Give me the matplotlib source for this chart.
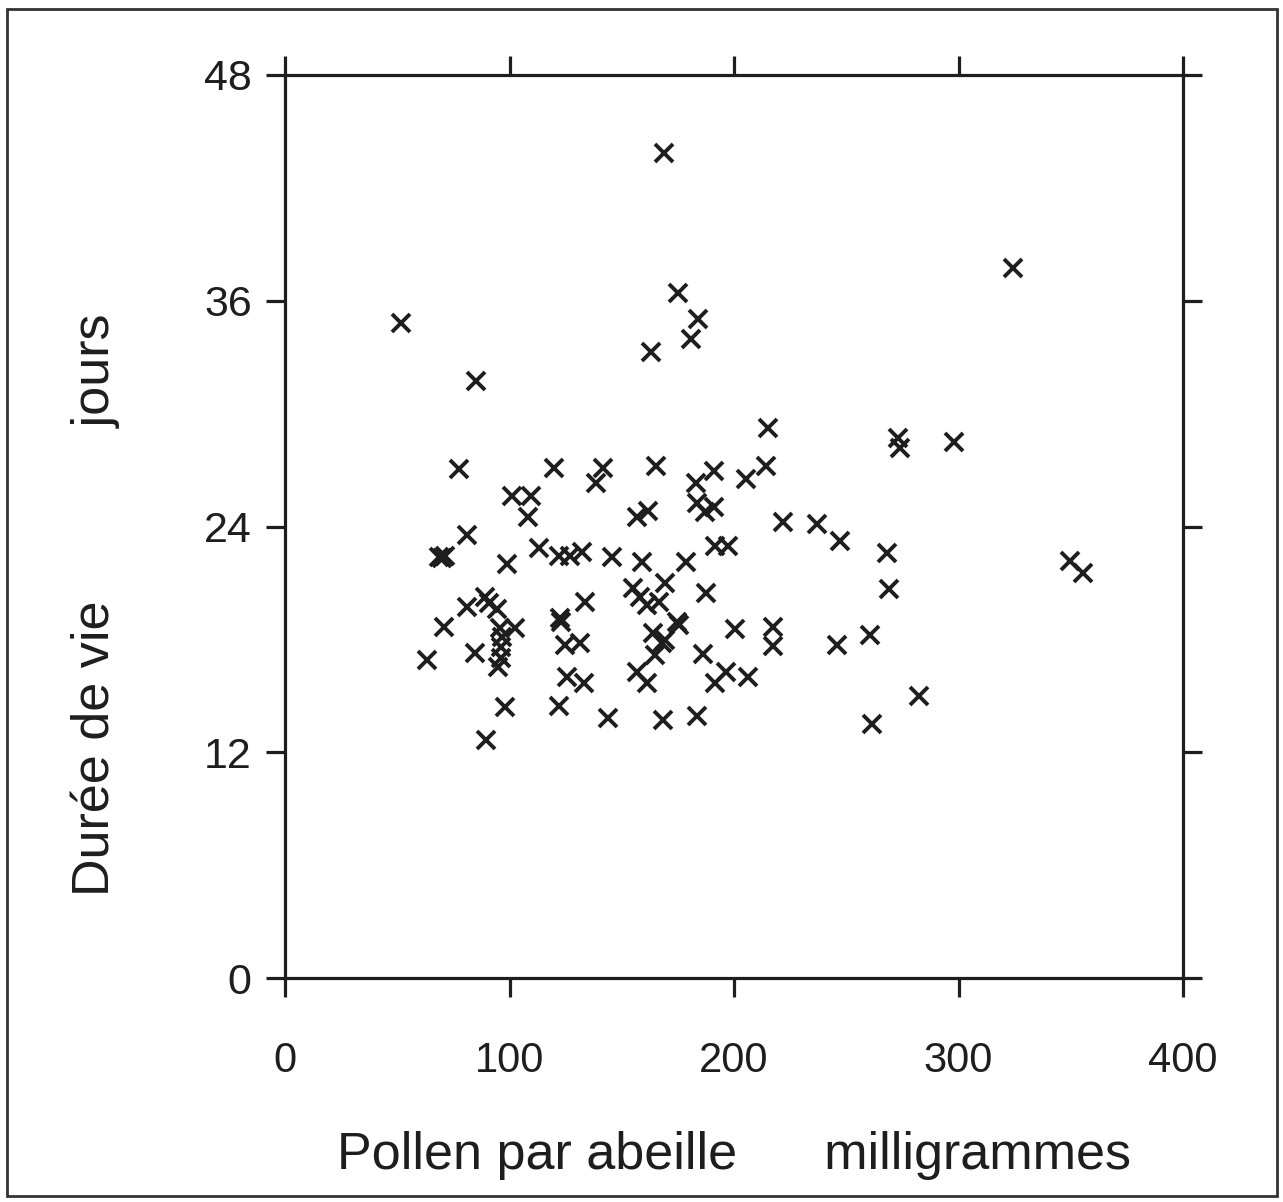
import matplotlib
matplotlib.use("Agg")
import matplotlib.pyplot as plt
from matplotlib.patches import Rectangle

plt.rcParams['font.family'] = ['Liberation Sans', 'DejaVu Sans']

# Pollen per bee (mg)
pollen = [169.0, 324.3, 51.5, 175.2, 184.1, 180.7, 162.9, 85.1, 215.3, 273.2,
          273.9, 298.0, 77.6, 120.0, 141.8, 138.5, 165.1, 183.1, 191.2, 205.2,
          214.3, 101.0, 109.4, 108.4, 156.6, 161.5, 183.4, 187.1, 191.2, 221.7,
          236.8, 247.2, 80.9, 68.5, 70.0, 71.3, 98.7, 113.3, 122.2, 126.9,
          132.1, 145.8, 159.2, 178.7, 191.5, 197.5, 268.3, 349.7, 355.3, 269.2,
          133.6, 80.9, 89.2, 90.8, 94.6, 71.0, 95.8, 102.4, 96.5, 96.0,
          96.0, 95.0, 84.6, 63.4, 122.3, 122.8, 124.7, 131.4, 125.8, 133.3,
          98.2, 122.2, 89.5, 155.1, 158.1, 161.1, 166.8, 169.3, 174.5, 175.5,
          164.0, 167.8, 169.3, 164.8, 156.6, 161.1, 187.6, 186.3, 200.4, 217.2,
          217.4, 196.4, 191.5, 206.4, 144.0, 168.2, 183.3, 245.7, 260.6, 282.5,
          261.3]
# Lifespan (days)
duree = [43.84, 37.75, 34.81, 36.43, 35.03, 33.97, 33.26, 31.74, 29.23, 28.69,
         28.16, 28.51, 27.04, 27.10, 27.10, 26.33, 27.24, 26.30, 26.97, 26.51,
         27.24, 25.62, 25.62, 24.52, 24.52, 24.83, 25.24, 24.79, 25.06, 24.26,
         24.14, 23.25, 23.55, 22.40, 22.30, 22.45, 22.01, 22.84, 22.43, 22.43,
         22.66, 22.40, 22.13, 22.13, 22.97, 22.97, 22.58, 22.19, 21.55, 20.66,
         20.00, 19.70, 20.25, 19.95, 19.60, 18.68, 18.59, 18.59, 18.10, 17.60,
         17.00, 16.55, 17.29, 16.90, 19.15, 18.90, 17.70, 17.79, 16.00, 15.68,
         14.42, 14.46, 12.65, 20.75, 20.27, 19.83, 20.00, 20.98, 18.95, 18.75,
         18.32, 17.79, 17.95, 17.17, 16.28, 15.67, 20.45, 17.22, 18.55, 18.65,
         17.65, 16.28, 15.67, 16.02, 13.81, 13.70, 13.95, 17.70, 18.24, 14.99,
         13.50]

xticks = [0, 100, 200, 300, 400]
yticks = [0, 12, 24, 36, 48]

W, H = 1283, 1202
fig = plt.figure(figsize=(W / 100, H / 100), dpi=100)
fig.patch.set_facecolor('white')

# outer frame
fig.patches.append(Rectangle((7 / W, 1 - 1196 / H), (1277 - 7) / W, (1196 - 9) / H,
                             transform=fig.transFigure, fill=False,
                             edgecolor='#333333', linewidth=2.0))

ax = fig.add_axes([285 / W, 1 - 978 / H, (1183 - 285) / W, (978 - 75) / H])
ink = '#1e1e1e'
ax.plot(pollen, duree, linestyle='none', marker='x', markersize=12.5,
        markeredgewidth=2.8, color=ink)

ax.set_xlim(0, 400)
ax.set_ylim(0, 48)
ax.set_xticks(xticks)
ax.set_yticks(yticks)
ax.set_xticklabels([str(v) for v in xticks])
ax.set_yticklabels([str(v) for v in yticks])

for s in ax.spines.values():
    s.set_linewidth(2.3)
    s.set_color(ink)

ax.tick_params(axis='both', which='both', direction='out', length=14,
               width=2.3, color=ink, top=True, right=True,
               labeltop=False, labelright=False)
ax.tick_params(axis='x', labelsize=30, pad=31, labelcolor=ink)
ax.tick_params(axis='y', labelsize=31, pad=10, labelcolor=ink)

ax.set_xlabel('Pollen par abeille      milligrammes', fontsize=37.5, color=ink,
              labelpad=36)

fig.text(95 / W, 1 - 605 / H, 'Durée de vie            jours', rotation=90,
         ha='center', va='center', fontsize=37.5, color=ink)

fig.savefig('out.png', dpi=100, facecolor='white')
